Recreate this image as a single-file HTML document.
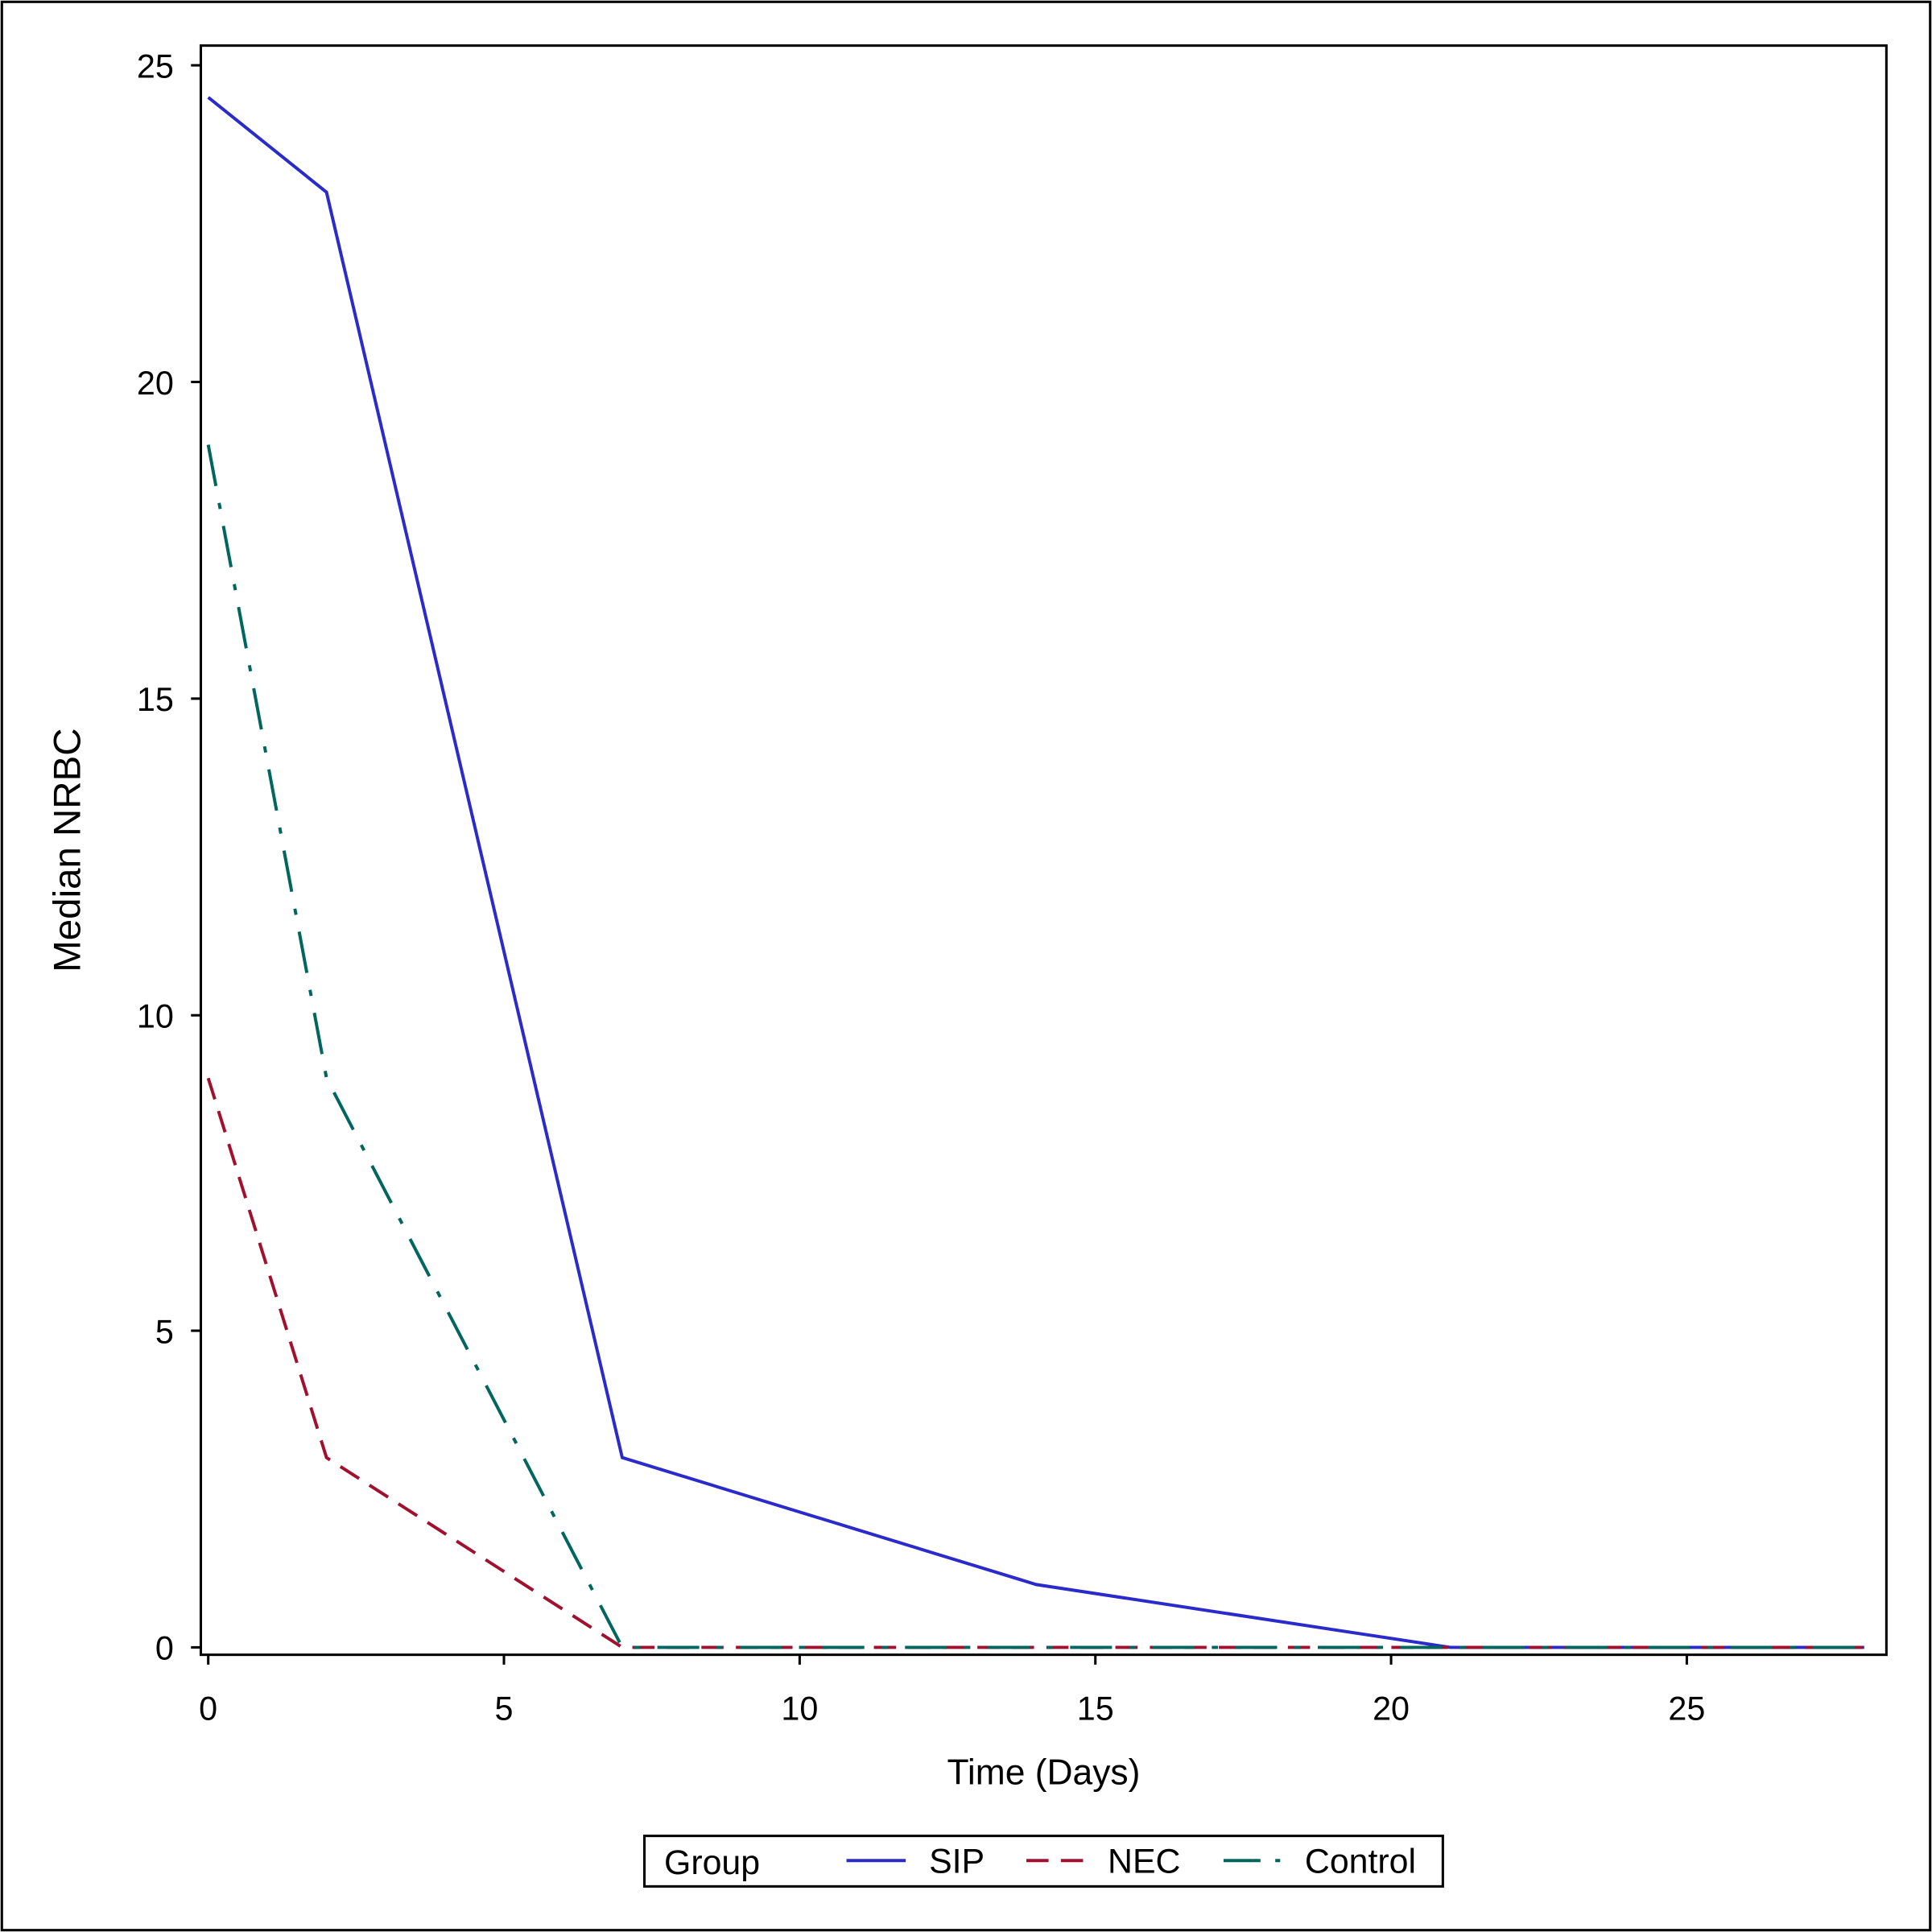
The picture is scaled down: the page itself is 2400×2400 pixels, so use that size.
<!DOCTYPE html>
<html><head><meta charset="utf-8"><style>
html,body{margin:0;padding:0;background:#fff}
svg{display:block}
text{font-family:"Liberation Sans",Arial,sans-serif;fill:#000}
</style></head><body>
<svg width="2400" height="2400" viewBox="0 0 1568 1568" xmlns="http://www.w3.org/2000/svg">
<rect x="0" y="0" width="1568" height="1568" fill="#fff"/>
<rect x="1.5" y="1.5" width="1565" height="1565" fill="none" stroke="#000" stroke-width="2"/>
<rect x="163" y="37" width="1368" height="1306" fill="none" stroke="#000" stroke-width="2"/>
<g stroke="#000" stroke-width="2">
<line x1="155" y1="53" x2="163" y2="53"/><line x1="155" y1="310" x2="163" y2="310"/>
<line x1="155" y1="567" x2="163" y2="567"/><line x1="155" y1="824" x2="163" y2="824"/>
<line x1="155" y1="1080" x2="163" y2="1080"/><line x1="155" y1="1337" x2="163" y2="1337"/>
<line x1="169" y1="1343" x2="169" y2="1351"/><line x1="409" y1="1343" x2="409" y2="1351"/>
<line x1="649" y1="1343" x2="649" y2="1351"/><line x1="889" y1="1343" x2="889" y2="1351"/>
<line x1="1129" y1="1343" x2="1129" y2="1351"/><line x1="1369" y1="1343" x2="1369" y2="1351"/>
</g>
<g font-size="27" text-anchor="end">
<text x="141" y="63">25</text><text x="141" y="320">20</text><text x="141" y="577">15</text>
<text x="141" y="834">10</text><text x="141" y="1090">5</text><text x="141" y="1347">0</text>
</g>
<g font-size="27" text-anchor="middle">
<text x="169" y="1396">0</text><text x="409" y="1396">5</text><text x="649" y="1396">10</text>
<text x="889" y="1396">15</text><text x="1129" y="1396">20</text><text x="1369" y="1396">25</text>
</g>
<text x="847" y="1448" font-size="29" text-anchor="middle">Time (Days)</text>
<text transform="translate(65,690) rotate(-90)" font-size="31" text-anchor="middle">Median NRBC</text>
<g fill="none" stroke-width="2.6">
<polyline stroke="#2B2BCC" points="169,79 265,156 505,1183 841,1286 1177,1337 1513,1337"/>
<polyline stroke="#A1102E" stroke-dasharray="18,10" points="169,875 265,1183 505,1337 1513,1337"/>
<polyline stroke="#01665E" stroke-dasharray="34,14,5,14" points="169,361 265,875 505,1337 1513,1337"/>
</g>
<rect x="523" y="1490" width="648" height="41" fill="none" stroke="#000" stroke-width="2"/>
<g font-size="28">
<text x="539" y="1521">Group</text>
<text x="754" y="1520">SIP</text>
<text x="899" y="1520">NEC</text>
<text x="1059" y="1520">Control</text>
</g>
<g stroke-width="2.6">
<line x1="687" y1="1510" x2="735" y2="1510" stroke="#2B2BCC"/>
<line x1="833" y1="1510" x2="880" y2="1510" stroke="#A1102E" stroke-dasharray="18,10"/>
<line x1="993" y1="1510" x2="1041" y2="1510" stroke="#01665E" stroke-dasharray="30,12,4,12"/>
</g>
</svg>
</body></html>
